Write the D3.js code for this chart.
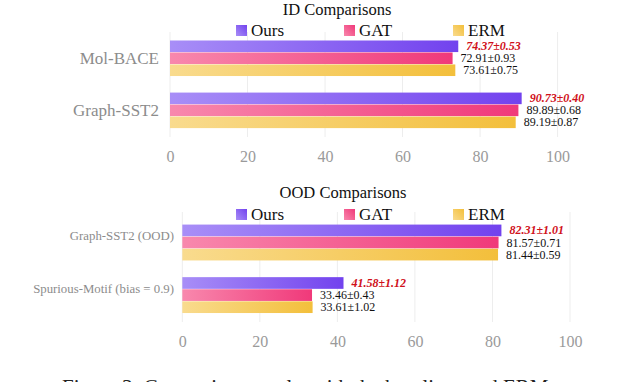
<!DOCTYPE html>
<html>
<head>
<meta charset="utf-8">
<script src="https://cdn.jsdelivr.net/npm/d3@7"></script>
<style>
  body { margin: 0; background: #fff; }
  svg { display: block; }
</style>
</head>
<body>
<svg id="chart" width="622" height="382"></svg>
<script>
// methods (legend order, bar order inside each group)
const methods = ['Ours', 'GAT', 'ERM'];

// ID comparisons
const idCategories = ['Mol-BACE', 'Graph-SST2'];
const idMeans = {
  Ours: [74.37, 90.73],
  GAT: [72.91, 89.89],
  ERM: [73.61, 89.19]
};
const idStds = {
  Ours: [0.53, 0.40],
  GAT: [0.93, 0.68],
  ERM: [0.75, 0.87]
};

// OOD comparisons
const oodCategories = ['Graph-SST2 (OOD)', 'Spurious-Motif (bias = 0.9)'];
const oodMeans = {
  Ours: [82.31, 41.58],
  GAT: [81.57, 33.46],
  ERM: [81.44, 33.61]
};
const oodStds = {
  Ours: [1.01, 1.12],
  GAT: [0.71, 0.43],
  ERM: [0.59, 1.02]
};

const xTicks = [0, 20, 40, 60, 80, 100];

const colors = {
  Ours: ['#a88ef7', '#7242ee'],
  GAT: ['#f888ad', '#f0397a'],
  ERM: ['#f9db8e', '#f3bf3b']
};

const FONT = "'Liberation Serif', 'Times New Roman', serif";

const svg = d3.select('#chart');
const defs = svg.append('defs');

methods.forEach(m => {
  const g = defs.append('linearGradient')
    .attr('id', 'grad-' + m)
    .attr('x1', '0%').attr('x2', '100%')
    .attr('y1', '0%').attr('y2', '0%');
  g.append('stop').attr('offset', '0%').attr('stop-color', colors[m][0]);
  g.append('stop').attr('offset', '100%').attr('stop-color', colors[m][1]);

  const gl = defs.append('linearGradient')
    .attr('id', 'lgrad-' + m)
    .attr('x1', '0%').attr('x2', '100%')
    .attr('y1', '100%').attr('y2', '0%');
  gl.append('stop').attr('offset', '0%').attr('stop-color', colors[m][0]);
  gl.append('stop').attr('offset', '100%').attr('stop-color', colors[m][1]);
});

function drawPanel(opt) {
  const g = svg.append('g').attr('font-family', FONT);

  const x = d3.scaleLinear()
    .domain([0, 100])
    .range([opt.left, opt.right]);

  const y = d3.scaleBand()
    .domain(opt.categories)
    .range([opt.top, opt.bottom])
    .paddingInner(0.31)
    .paddingOuter(0.163);

  const yInner = d3.scaleBand()
    .domain(methods)
    .range([0, y.bandwidth()]);

  // grid
  g.append('g')
    .selectAll('line')
    .data(xTicks)
    .join('line')
    .attr('x1', d => x(d)).attr('x2', d => x(d))
    .attr('y1', opt.gridTop).attr('y2', opt.gridBottom)
    .attr('stroke', '#ededed')
    .attr('stroke-width', 1);

  // title
  g.append('text')
    .attr('x', opt.titleX)
    .attr('y', opt.titleY)
    .attr('text-anchor', 'middle')
    .attr('font-family', FONT)
    .attr('font-size', 16.5)
    .attr('fill', '#111')
    .text(opt.title);

  // legend
  const legendX = [236, 344, 453];
  const leg = g.selectAll('.leg')
    .data(methods)
    .join('g')
    .attr('transform', (d, i) => `translate(${legendX[i]},${opt.legendY})`);
  leg.append('rect')
    .attr('x', 0).attr('y', -11)
    .attr('width', 11).attr('height', 11)
    .attr('fill', d => `url(#lgrad-${d})`);
  leg.append('text')
    .attr('x', 15)
    .attr('y', 0)
    .attr('font-family', FONT)
    .attr('font-size', 17)
    .attr('fill', '#111')
    .text(d => d);

  // x axis labels
  const xAxis = d3.axisBottom(x).tickValues(xTicks).tickSize(0).tickPadding(0);
  const ax = g.append('g')
    .attr('transform', `translate(0,${opt.tickY})`)
    .call(xAxis)
    .attr('font-family', FONT)
    .attr('font-size', 16);
  ax.select('.domain').remove();
  ax.selectAll('text')
    .attr('font-family', FONT)
    .attr('fill', '#9a9a9a')
    .attr('dy', 0);

  // category labels
  g.selectAll('.cat')
    .data(opt.categories)
    .join('text')
    .attr('x', opt.catX)
    .attr('y', d => y(d) + y.bandwidth() / 2 + opt.catShift)
    .attr('dy', '0.35em')
    .attr('text-anchor', 'end')
    .attr('font-family', FONT)
    .attr('font-size', opt.catSize)
    .attr('fill', '#8c8c8c')
    .text(d => d);

  // bars
  const rows = [];
  opt.categories.forEach((c, i) => {
    methods.forEach(m => {
      rows.push({ cat: c, method: m, mean: opt.means[m][i], std: opt.stds[m][i] });
    });
  });

  g.append('g')
    .selectAll('rect')
    .data(rows)
    .join('rect')
    .attr('x', x(0))
    .attr('y', d => y(d.cat) + yInner(d.method))
    .attr('width', d => x(d.mean) - x(0))
    .attr('height', yInner.bandwidth() - 0.4)
    .attr('fill', d => `url(#grad-${d.method})`);

  g.append('g')
    .selectAll('text')
    .data(rows)
    .join('text')
    .attr('x', d => x(d.mean) + 8)
    .attr('y', d => y(d.cat) + yInner(d.method) + yInner.bandwidth() / 2)
    .attr('dy', '0.32em')
    .attr('font-family', FONT)
    .attr('font-size', 12)
    .attr('fill', d => d.method === 'Ours' ? '#d0101a' : '#111')
    .attr('font-weight', d => d.method === 'Ours' ? 'bold' : 'normal')
    .attr('font-style', d => d.method === 'Ours' ? 'italic' : 'normal')
    .text(d => `${d.mean.toFixed(2)}±${d.std.toFixed(2)}`);
}

drawPanel({
  title: 'ID Comparisons',
  titleX: 337, titleY: 15,
  legendY: 36,
  categories: idCategories,
  means: idMeans, stds: idStds,
  left: 170, right: 557.6,
  top: 32, bottom: 137,
  gridTop: 32, gridBottom: 137,
  tickY: 162,
  catX: 159, catSize: 17, catShift: 0
});

drawPanel({
  title: 'OOD Comparisons',
  titleX: 343, titleY: 198,
  legendY: 220,
  categories: oodCategories,
  means: oodMeans, stds: oodStds,
  left: 182.3, right: 570,
  top: 216, bottom: 322,
  gridTop: 212, gridBottom: 322,
  tickY: 347,
  catX: 174, catSize: 12.8, catShift: -7
});

// caption cut off at the bottom edge
svg.append('text')
  .attr('x', 62)
  .attr('y', 394)
  .attr('font-family', FONT)
  .attr('font-size', 21)
  .attr('fill', '#222')
  .text('Figure 3: Comparison results with the baselines and ERM');
</script>
</body>
</html>
